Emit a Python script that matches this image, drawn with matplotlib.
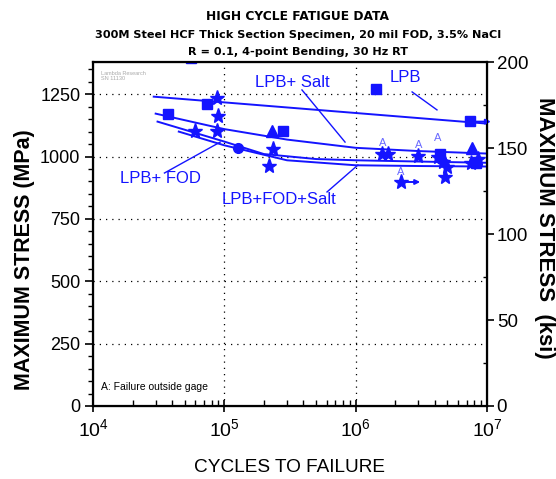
import matplotlib
matplotlib.use("Agg")
import matplotlib.pyplot as plt
import numpy as np
from matplotlib.ticker import FixedLocator, NullFormatter, LogLocator, FuncFormatter

plt.rcParams['font.family'] = ['Liberation Sans', 'DejaVu Sans']
plt.rcParams['mathtext.fontset'] = 'custom'
plt.rcParams['mathtext.rm'] = 'Liberation Sans'

BLUE = '#1414ff'

# ---- data (cycles, MPa) ----
lpb_sq_n = [3.7e4, 7.4e4, 2.8e5, 1.43e6, 7.4e6, 5.6e4, 4.4e6, 8.3e6]
lpb_sq_s = [1172, 1212, 1104, 1272, 1144, 1395, 1010, 975]

star_n = [8.8e4, 9.0e4, 6.0e4, 8.8e4, 2.35e5, 2.2e5, 1.6e6, 1.75e6, 3.0e6, 2.2e6, 4.8e6,
          4.2e6, 4.6e6, 5.0e6, 7.5e6, 8.5e6]
star_s = [1236, 1164, 1104, 1104, 1032, 964, 1012, 1012, 1004, 896, 916,
          1000, 980, 960, 975, 990]

circle_n = [1.27e5, 4.5e6, 8.0e6]
circle_s = [1036, 990, 980]

tri_n = [2.3e5, 7.7e6]
tri_s = [1104, 1036]

a_n = [1.6e6, 3.0e6, 4.2e6, 2.2e6]
a_s = [1054, 1046, 1074, 938]

# run-outs (start cycles, stress, end cycles)
runout_n0 = [2.25e6, 7.6e6]
runout_s = [898, 1140]
runout_n1 = [3.1e6, 1.07e7]

# fit curves
lpb_fit_n = [2.9e4, 1e7]
lpb_fit_s = [1240, 1132]
salt_fit_n = [3.0e4, 1.0e5, 3.0e5, 1.0e6, 3.0e6, 1.0e7]
salt_fit_s = [1172, 1110, 1068, 1035, 1022, 1012]
fod_fit_n = [3.1e4, 1.0e5, 2.0e5, 5.0e5, 1.0e6, 3.0e6, 1.0e7]
fod_fit_s = [1140, 1060, 1010, 990, 985, 980, 975]
fodsalt_fit_n = [4.5e4, 1.0e5, 3.0e5, 1.0e6, 3.0e6, 1.0e7]
fodsalt_fit_s = [1100, 1045, 985, 965, 962, 960]

# curve labels: text, text pos, leader start, leader end
curve_labels = ['LPB', 'LPB+ Salt', 'LPB+ FOD', 'LPB+FOD+Salt']
label_pos = [(1.82e6, 1315), (1.71e5, 1295), (1.61e4, 910), (9.6e4, 826)]
leader_a = [(2.69e6, 1259), (3.9e5, 1267), (3.5e4, 934), (6.05e5, 858)]
leader_b = [(4.16e6, 1187), (8.3e5, 1058), (9.3e4, 1058), (1.04e6, 966)]

fig = plt.figure(figsize=(5.56, 4.79), dpi=100)
ax = fig.add_axes([93/556, 1-406/479, (487-93)/556, (406-62)/479])
ax.set_xscale('log')
ax.set_xlim(1e4, 1e7)
ax.set_ylim(0, 1379)

# grid
for yv in [250, 500, 750, 1000, 1250]:
    ax.axhline(yv, color='black', lw=0.9, ls=(0, (1, 4)), zorder=0)
for xv in [1e5, 1e6]:
    ax.axvline(xv, color='black', lw=0.9, ls=(0, (1, 4)), zorder=0)

ax.plot(lpb_fit_n, lpb_fit_s, color=BLUE, lw=1.4)
ax.plot(salt_fit_n, salt_fit_s, color=BLUE, lw=1.4)
ax.plot(fod_fit_n, fod_fit_s, color=BLUE, lw=1.4)
ax.plot(fodsalt_fit_n, fodsalt_fit_s, color=BLUE, lw=1.4)

ax.plot(lpb_sq_n, lpb_sq_s, 's', color=BLUE, ms=7)
ax.plot(star_n, star_s, '*', color=BLUE, ms=11)
ax.plot(circle_n, circle_s, 'o', color=BLUE, ms=7)
ax.plot(tri_n, tri_s, '^', color=BLUE, ms=8)
for n, s in zip(a_n, a_s):
    ax.text(n, s, 'A', color='#6a6aff', fontsize=8, ha='center', va='center')
for n0, s, n1 in zip(runout_n0, runout_s, runout_n1):
    ax.annotate('', xy=(n1, s), xytext=(n0, s), annotation_clip=False,
                arrowprops=dict(arrowstyle='-|>', color=BLUE, lw=1.4, mutation_scale=7,
                                shrinkA=0, shrinkB=0))

for t, p, a, b in zip(curve_labels, label_pos, leader_a, leader_b):
    ax.text(p[0], p[1], t, color=BLUE, fontsize=12, ha='left', va='center')
    ax.plot([a[0], b[0]], [a[1], b[1]], color=BLUE, lw=1)

ax.text(0.02, 0.975, 'Lambda Research\nSN 11130', transform=ax.transAxes, fontsize=4,
        color='#aaaaaa', va='top', ha='left')
ax.text(0.02, 0.055, 'A: Failure outside gage', transform=ax.transAxes, fontsize=7.5,
        va='center', ha='left')

# ticks
ax.yaxis.set_major_locator(FixedLocator([0, 250, 500, 750, 1000, 1250]))
ax.yaxis.set_minor_locator(FixedLocator(np.arange(0, 1379, 50)))
ax.xaxis.set_major_locator(LogLocator(base=10, numticks=10))
ax.xaxis.set_minor_locator(LogLocator(base=10, subs=np.arange(2, 10), numticks=10))
ax.xaxis.set_minor_formatter(NullFormatter())
ax.xaxis.set_major_formatter(FuncFormatter(lambda v, p: r'$\mathregular{10^{%d}}$' % round(np.log10(v))))
ax.tick_params(axis='y', which='major', direction='out', length=6, width=1.2, labelsize=13, pad=3)
ax.tick_params(axis='y', which='minor', direction='out', length=3.5, width=1)
ax.tick_params(axis='x', which='major', direction='inout', length=9, width=1.2, labelsize=14, pad=4)
ax.tick_params(axis='x', which='minor', direction='in', length=4, width=1)
for sp in ax.spines.values():
    sp.set_linewidth(1.6)

ax.set_xlabel('CYCLES TO FAILURE', fontsize=13.7, va='center')
ax.xaxis.set_label_coords(0.5, -(467-406)/344)
ax.set_ylabel('MAXIMUM STRESS (MPa)', fontsize=15.5, fontweight='bold', va='center')
ax.yaxis.set_label_coords((25-93)/394, (406-260)/344)

ax2 = ax.twinx()
ax2.set_ylim(0, 200)
ax2.yaxis.set_major_locator(FixedLocator([0, 50, 100, 150, 200]))
ax2.yaxis.set_minor_locator(FixedLocator([25, 75, 125, 175]))
ax2.tick_params(axis='y', which='major', direction='out', length=5, width=1.2, labelsize=13.5, pad=2)
ax2.tick_params(axis='y', which='minor', direction='in', length=3, width=1)
ax2.set_ylabel('MAXIMUM STRESS  (ksi)', fontsize=16, fontweight='bold', rotation=-90, va='center')
ax2.yaxis.set_label_coords((544-93)/394, (406-228)/344)

ttl = dict(ha='center', va='center', fontweight='bold', family='DejaVu Sans')
fig.text(298/556, 1-17/479, 'HIGH CYCLE FATIGUE DATA', fontsize=8.8, **ttl)
fig.text(298/556, 1-35/479, '300M Steel HCF Thick Section Specimen, 20 mil FOD, 3.5% NaCl', fontsize=8.1, **ttl)
fig.text(298/556, 1-52/479, 'R = 0.1, 4-point Bending, 30 Hz RT', fontsize=8.1, **ttl)

fig.savefig('out.png', dpi=100)
